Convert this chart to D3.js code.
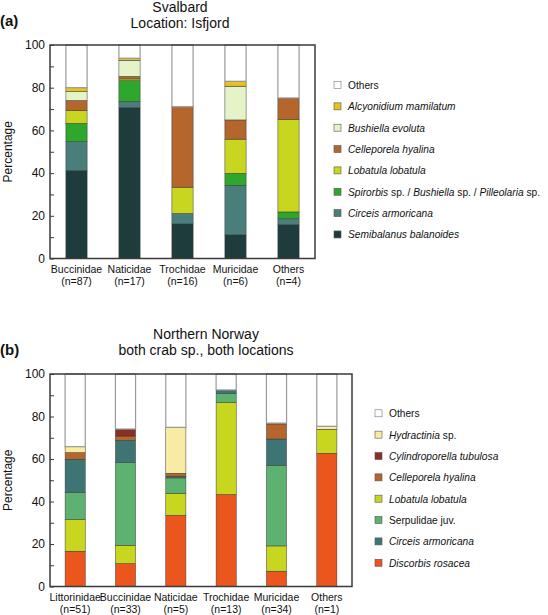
<!DOCTYPE html>
<html><head><meta charset="utf-8">
<script src="https://cdn.jsdelivr.net/npm/d3@7"></script>
<style>
body{margin:0;background:#fff;}
svg{display:block;font-family:"Liberation Sans",Arial,sans-serif;}
</style></head>
<body><svg id="chart" width="548" height="615"></svg>
<script>
// ---------- Panel (a) data ----------
const catsA = ["Buccinidae","Naticidae","Trochidae","Muricidae","Others"];
const nA = ["(n=87)","(n=17)","(n=16)","(n=6)","(n=4)"];
const semibalanus = [41.2, 70.7, 16.2, 11.1, 15.8];
const circeisA    = [13.6, 2.9, 4.9, 23.2, 2.8];
const spirorbis   = [8.5, 9.7, 0, 5.6, 3.2];
const lobatulaA   = [6.0, 0.8, 12.3, 16.0, 43.4];
const celleporelaA= [4.7, 1.2, 37.7, 9.0, 10.0];
const bushiella   = [4.2, 7.5, 0, 15.8, 0];
const alcyonidium = [1.8, 1.0, 0, 2.3, 0];

// ---------- Panel (b) data ----------
const catsB = ["Littorinidae","Buccinidae","Naticidae","Trochidae","Muricidae","Others"];
const nB = ["(n=51)","(n=33)","(n=5)","(n=13)","(n=34)","(n=1)"];
const discorbis    = [16.6, 10.8, 33.5, 43.3, 7.2, 62.7];
const lobatulaB    = [14.9, 8.6, 10.4, 43.2, 11.9, 11.3];
const serpulidae   = [12.7, 38.9, 7.2, 4.3, 37.8, 0];
const circeisB     = [15.7, 10.5, 0.8, 1.7, 12.5, 0];
const celleporelaB = [3.1, 2.0, 1.4, 0, 7.1, 0];
const cylindro     = [0, 3.3, 0, 0, 0, 0];
const hydractinia  = [2.8, 0, 21.6, 0, 0.4, 1.4];

const yTicksMajor = [0, 20, 40, 60, 80, 100];
const yTicksMinor = [10, 30, 50, 70, 90];

// series definitions (stack order bottom->top); label parts: [text, italic]
const seriesA = [
  {key:"semibalanus", values:semibalanus, color:"#1d3c3b", label:[["Semibalanus balanoides",true]]},
  {key:"circeis", values:circeisA, color:"#4a7e7b", label:[["Circeis armoricana",true]]},
  {key:"spirorbis", values:spirorbis, color:"#2ea82c", label:[["Spirorbis",true],[" sp. / ",false],["Bushiella",true],[" sp. / ",false],["Pilleolaria",true],[" sp.",false]]},
  {key:"lobatula", values:lobatulaA, color:"#c9d61f", label:[["Lobatula lobatula",true]]},
  {key:"celleporela", values:celleporelaA, color:"#b5662c", label:[["Celleporela hyalina",true]]},
  {key:"bushiella", values:bushiella, color:"#e5f4c8", label:[["Bushiella evoluta",true]]},
  {key:"alcyonidium", values:alcyonidium, color:"#e7c31d", label:[["Alcyonidium mamilatum",true]]}
];
const seriesB = [
  {key:"discorbis", values:discorbis, color:"#ea561c", label:[["Discorbis rosacea",true]]},
  {key:"lobatula", values:lobatulaB, color:"#c9d61f", label:[["Lobatula lobatula",true]]},
  {key:"serpulidae", values:serpulidae, color:"#5db270", label:[["Serpulidae juv.",false]]},
  {key:"circeis", values:circeisB, color:"#3e7574", label:[["Circeis armoricana",true]]},
  {key:"celleporela", values:celleporelaB, color:"#b5662c", label:[["Celleporela hyalina",true]]},
  {key:"cylindro", values:cylindro, color:"#8a2f24", label:[["Cylindroporella tubulosa",true]]},
  {key:"hydractinia", values:hydractinia, color:"#f9eba3", label:[["Hydractinia",true],[" sp.",false]]}
];
// legend order top->bottom (keys)
const legendOrderA = ["others","alcyonidium","bushiella","celleporela","lobatula","spirorbis","circeis","semibalanus"];
const legendOrderB = ["others","hydractinia","cylindro","celleporela","lobatula","serpulidae","circeis","discorbis"];

const svg = d3.select("#chart");

function panel(opt){
  const {cats, ns, series, legendOrder, x0, x1, yTop, yBot, title1, title2, titleX, t1y, t2y, tag, tagY, legX, legY0} = opt;
  const g = svg.append("g");
  const x = d3.scaleBand().domain(cats).range([x0, x1]).paddingInner(0.6).paddingOuter(0.3);
  const y = d3.scaleLinear().domain([0,100]).range([yBot, yTop]);

  const keys = series.map(s=>s.key).concat(["others"]);
  const rows = cats.map((c,i)=>{
    const r = {cat:c};
    let sum = 0;
    series.forEach(s=>{ r[s.key]=s.values[i]; sum+=s.values[i]; });
    r.others = Math.max(0, 100-sum);
    return r;
  });
  const stacked = d3.stack().keys(keys)(rows);
  const colorOf = {others:"#ffffff"};
  series.forEach(s=>colorOf[s.key]=s.color);

  stacked.forEach(layer=>{
    const isOthers = layer.key==="others";
    g.append("g").selectAll("rect").data(layer.filter(d=>d[1]-d[0]>0)).join("rect")
      .attr("x", d=>x(d.data.cat))
      .attr("width", x.bandwidth())
      .attr("y", d=>y(d[1]))
      .attr("height", d=>y(d[0])-y(d[1]))
      .attr("fill", colorOf[layer.key])
      .attr("stroke", isOthers ? "#9a9a9a" : "#3a3a3a")
      .attr("stroke-width", isOthers ? 1.2 : 0.5);
  });

  g.append("rect").attr("x",x0).attr("y",yTop).attr("width",x1-x0).attr("height",yBot-yTop)
    .attr("fill","none").attr("stroke","#3a3a3a").attr("stroke-width",1.5);

  const axMaj = g.append("g").attr("transform",`translate(${x0},0)`)
    .call(d3.axisLeft(y).tickValues(yTicksMajor).tickSize(-4).tickPadding(5).tickFormat(d3.format("d")));
  const axMin = g.append("g").attr("transform",`translate(${x0},0)`)
    .call(d3.axisLeft(y).tickValues(yTicksMinor).tickSize(-4).tickFormat(""));
  [axMaj, axMin].forEach(a=>{
    a.select(".domain").remove();
    a.selectAll("line").attr("stroke","#3a3a3a").attr("stroke-width",1);
  });
  axMaj.selectAll("text").attr("font-size",12).attr("fill","#111").attr("font-family","Liberation Sans, Arial, sans-serif");

  const xl = g.append("g").selectAll("text").data(cats).join("text")
    .attr("x", d=>x(d)+x.bandwidth()/2)
    .attr("text-anchor","middle").attr("font-size",10.5).attr("fill","#111");
  xl.append("tspan").attr("x", d=>x(d)+x.bandwidth()/2).attr("y", yBot+14).text(d=>d);
  xl.append("tspan").attr("x", d=>x(d)+x.bandwidth()/2).attr("y", yBot+26.5).text((d,i)=>ns[i]);

  g.append("text").attr("transform",`translate(12,${(yTop+yBot)/2}) rotate(-90)`)
    .attr("text-anchor","middle").attr("font-size",12).attr("fill","#111").text("Percentage");

  g.append("text").attr("x",titleX).attr("y",t1y).attr("text-anchor","middle").attr("font-size",14).attr("fill","#111").text(title1);
  g.append("text").attr("x",titleX).attr("y",t2y).attr("text-anchor","middle").attr("font-size",14).attr("fill","#111").text(title2);
  g.append("text").attr("x",0).attr("y",tagY).attr("font-size",15).attr("font-weight","bold").attr("fill","#111").text(tag);

  const legendItems = legendOrder.map(k=>{
    if(k==="others") return {color:"#ffffff", label:[["Others",false]], others:true};
    const s = series.find(s=>s.key===k);
    return {color:s.color, label:s.label};
  });
  const leg = g.append("g");
  legendItems.forEach((it,i)=>{
    const cy = legY0 + i*21.35;
    leg.append("rect").attr("x",legX).attr("y",cy-3.5).attr("width",7).attr("height",7)
      .attr("fill",it.color).attr("stroke", it.others ? "#777" : "#555").attr("stroke-width",0.6);
    const t = leg.append("text").attr("x",legX+14).attr("y",cy+4).attr("font-size",10.2).attr("fill","#111");
    it.label.forEach(([txt,ital])=>{
      t.append("tspan").attr("font-style", ital?"italic":"normal").text(txt);
    });
  });
}

panel({cats:catsA, ns:nA, series:seriesA, legendOrder:legendOrderA,
  x0:50, x1:315, yTop:45, yBot:258.5,
  title1:"Svalbard", title2:"Location: Isfjord", titleX:180, t1y:12, t2y:28, tag:"(a)", tagY:26,
  legX:334, legY0:85});

panel({cats:catsB, ns:nB, series:seriesB, legendOrder:legendOrderB,
  x0:50, x1:352, yTop:374, yBot:586.5,
  title1:"Northern Norway", title2:"both crab sp., both locations", titleX:206, t1y:339, t2y:355, tag:"(b)", tagY:355,
  legX:375, legY0:413.3});
</script>
</body></html>
